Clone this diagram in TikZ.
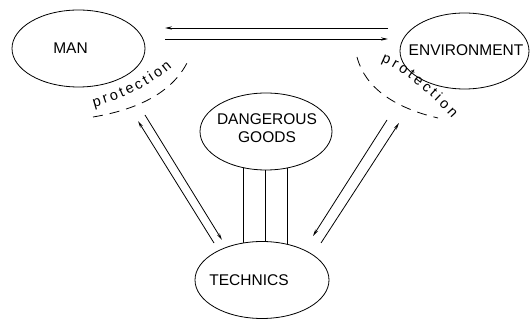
\documentclass[tikz,border=0pt]{standalone}
\usepackage{fontspec}
\setmainfont{Liberation Sans}
\usetikzlibrary{shapes.geometric,arrows.meta,decorations.text,backgrounds}
\newcommand\protfont{\fontsize{14.5}{16}\selectfont}
\begin{document}
\begin{tikzpicture}[x=1pt,y=-1pt,
  oval/.style={draw, ellipse, fill=white, line width=0.8pt, inner sep=0pt},
  lbl/.style={font=\fontsize{15.5}{18}\selectfont, inner sep=0pt, align=center},
  link/.style={line width=0.8pt},
  arr/.style={link, -{Stealth[length=7pt,width=3.2pt]}},
  guard/.style={line width=0.8pt, dash pattern=on 10pt off 7pt},
  prottext/.style={decorate, decoration={text along path, text={|\protfont|protection}, text align={fit to path}}}]
\useasboundingbox (0,0) rectangle (530,320);

% ovals
\node[oval, minimum width=133pt, minimum height=77pt] (man) at (78.5,48.5) {};
\node[oval, minimum width=129pt, minimum height=76pt] (env) at (464.5,51) {};
\node[oval, minimum width=132pt, minimum height=77pt] (dg) at (266,131.5) {};
\node[oval, minimum width=134pt, minimum height=77pt] (tech) at (262,280) {};

% labels
\node[lbl] (mant) at (70.5,48) {MAN};
\node[lbl] (envt) at (466,50.5) {ENVIRONMENT};
\node[lbl] (dgt) at (267,128) {DANGEROUS\\GOODS};
\node[lbl] (techt) at (249,280) {TECHNICS};

% links dangerous goods - technics
\begin{scope}[on background layer]
\draw[link] ([xshift=-23pt]dg.center) -- ([xshift=-23pt]dg.center |- tech.center);
\draw[link] ([xshift=-1pt]dg.center) -- ([xshift=-1pt]dg.center |- tech.center);
\draw[link] ([xshift=21pt]dg.center) -- ([xshift=21pt]dg.center |- tech.center);
\end{scope}

% horizontal arrows
\coordinate (h1a) at (165,28); \coordinate (h1b) at (388,28);
\coordinate (h2a) at (165,39); \coordinate (h2b) at (388,39);
\draw[arr] (h1b) -- (h1a);
\draw[arr] (h2a) -- (h2b);

% left diagonal arrows
\coordinate (la1) at (214,243); \coordinate (la2) at (138,121);
\coordinate (lb1) at (145,115); \coordinate (lb2) at (222,240);
\draw[arr] (la1) -- (la2);
\draw[arr] (lb1) -- (lb2);

% right diagonal arrows
\coordinate (rc1) at (387,120); \coordinate (rc2) at (313,236);
\coordinate (rd1) at (321,243); \coordinate (rd2) at (399,123);
\draw[arr] (rc1) -- (rc2);
\draw[arr] (rd1) -- (rd2);

% protection
\draw[guard] (93,117) .. controls (135,110) and (172,94) .. (188,61);
\draw[guard] (357,57) .. controls (365,88) and (395,108) .. (438,118);
\path[prottext] (94,107) .. controls (120,100) and (150,86) .. (172,67);
\path[prottext] (381,62) .. controls (403,70) and (432,96) .. (452,118);
\end{tikzpicture}
\end{document}
